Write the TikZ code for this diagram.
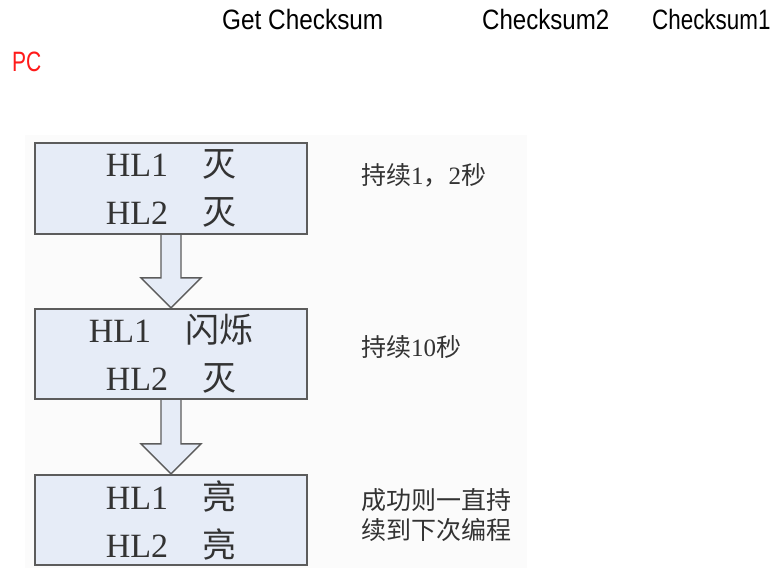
\documentclass[tikz,border=0pt]{standalone}
\usepackage{fontspec}
\setmainfont{Liberation Serif}
\newfontfamily\cjk{Noto Sans CJK SC}
\newfontfamily\topfont{Liberation Sans}
\usetikzlibrary{calc,backgrounds}
\definecolor{boxfill}{HTML}{E6ECF7}
\definecolor{boxline}{HTML}{5C5C5C}
\definecolor{txt}{HTML}{333333}
\definecolor{pcred}{HTML}{FF1A1A}
\tikzset{
  box/.style={draw=boxline, line width=2.2pt, fill=boxfill, minimum width=272pt,
    minimum height=90pt, inner sep=0pt, align=center, text=txt,
    font=\fontsize{34}{48}\selectfont},
  lbl/.style={anchor=west, inner sep=0pt, text=txt, align=left,
    font=\fontsize{25}{30}\selectfont},
  toptxt/.style={anchor=base west, inner sep=0pt, font=\topfont\fontsize{28}{30}\selectfont},
  barrow/.style={draw=boxline, line width=1.4pt, fill=boxfill, line join=miter}
}
\begin{document}
\begin{tikzpicture}[x=1pt,y=-1pt]
\useasboundingbox (0,0) rectangle (773,568);
% top texts
\node[toptxt] (t1) at (222,29) {\scalebox{0.87}[1]{Get Checksum}};
\node[toptxt] (t2) at (482,29) {\scalebox{0.86}[1]{Checksum2}};
\node[toptxt] (t3) at (652,29) {\scalebox{0.80}[1]{Checksum1}};
\node[toptxt, text=pcred] (pc) at (12,71) {\scalebox{0.75}[1]{PC}};
% boxes
\node[box, minimum height=91pt] (b1) at (171,188.5) {HL1\quad{\cjk 灭}\\HL2\quad{\cjk 灭}};
\node[box] (b2) at (171,354) {HL1\quad{\cjk 闪烁}\\HL2\quad{\cjk 灭}};
\node[box] (b3) at (171,520) {HL1\quad{\cjk 亮}\\HL2\quad{\cjk 亮}};
% labels
\node[lbl] (l1) at (361,175) {{\cjk 持续}1{\cjk ，}2{\cjk 秒}};
\node[lbl] (l2) at (361,347) {{\cjk 持续}10{\cjk 秒}};
\node[lbl] (l3) at (361,515) {{\cjk 成功则一直持}\\{\cjk 续到下次编程}};
\begin{pgfonlayer}{background}
\fill[black!1.5] (25,135) rectangle (527,568);
\draw[barrow] ($(b1.south)+(-10,0)$) -- ($(b2.north)+(-10,-30)$) -- ($(b2.north)+(-30,-30)$)
  -- (b2.north) -- ($(b2.north)+(30,-30)$) -- ($(b2.north)+(10,-30)$) -- ($(b1.south)+(10,0)$);
\draw[barrow] ($(b2.south)+(-10,0)$) -- ($(b3.north)+(-10,-30)$) -- ($(b3.north)+(-30,-30)$)
  -- (b3.north) -- ($(b3.north)+(30,-30)$) -- ($(b3.north)+(10,-30)$) -- ($(b2.south)+(10,0)$);
\end{pgfonlayer}
\end{tikzpicture}
\end{document}
